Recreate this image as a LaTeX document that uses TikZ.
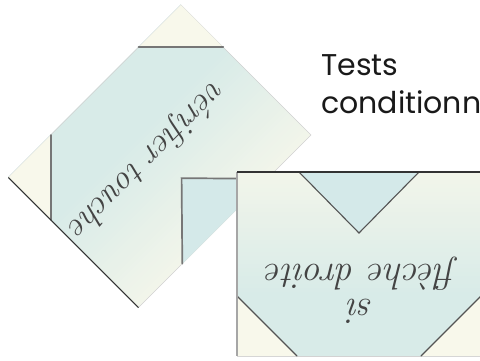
\documentclass[tikz,border=0pt]{standalone}
\usepackage{fontspec}
\newfontfamily\titlefont{Poppins}
\usepackage{xcolor}
\definecolor{cream}{HTML}{F8F8EB}
\definecolor{notch}{HTML}{D4E9E9}
\definecolor{bodytop}{HTML}{F2F5EA}
\definecolor{bodybot}{HTML}{D8EBE8}
\definecolor{seam}{HTML}{545454}
\definecolor{ink}{HTML}{444444}

% one step card, 244 x 184, drawn in local coordinates (y down)
\newcommand{\card}{%
  \foreach \k in {0,...,45}{
    \pgfmathtruncatemacro\pct{max(0,100-\k*10/3)}
    \fill[bodytop!\pct!bodybot] (0,\k*4) rectangle (244,184);
  }
  \draw[gray!35,line width=0.6pt] (0,0) rectangle (244,184);
  % notch on top
  \fill[notch] (62,0) -- (122,61) -- (182,0) -- cycle;
  \draw[seam] (62,0) -- (122,61) -- (182,0);
  % cut corners at the bottom
  \fill[cream] (0,124) -- (60,184) -- (0,184) -- cycle;
  \fill[cream] (244,124) -- (184,184) -- (244,184) -- cycle;
  \draw[seam] (0,124) -- (60,184);
  \draw[seam] (244,124) -- (184,184);
}

\begin{document}
\begin{tikzpicture}[x=1pt,y=-1pt,
    seam/.style={draw=seam,line width=1.1pt,line cap=round},
    blocktext/.style={text=ink,align=center,inner sep=0pt},
    title/.style={font=\titlefont\fontsize{30}{38}\selectfont,text=black!90,anchor=base west,inner sep=0pt}]
  \useasboundingbox (0,0) rectangle (480,360);
  \clip (0,0) rectangle (480,360);

  % card "vérifier touche", standing on its corner
  \begin{scope}[shift={(311,135)},rotate=225,seam/.append style={draw=seam!80,line width=1.7pt}]
    \card
    \draw[black!80,line width=1pt] (244,0) -- (244,184);
    \node[blocktext,rotate=225,font=\itshape\fontsize{34}{35}\selectfont] (verif) at (133,99) {vérifier touche};
  \end{scope}

  % card "si flèche droite", upside down
  \begin{scope}[shift={(237,172)}]
    \card
    \draw[gray!70,line width=2pt] (0,0) -- (0,184);
    \draw[black!80,line width=1.2pt] (0,0) -- (244,0);
    \node[blocktext,rotate=180,font=\itshape\fontsize{37}{35}\selectfont] (sifleche) at (124,118) {si\\flèche droite};
  \end{scope}

  % title
  \node[title] (titre) at (321,75) {Tests};
  \node[title] (titre2) at (321,113) {conditionnels};
\end{tikzpicture}
\end{document}
